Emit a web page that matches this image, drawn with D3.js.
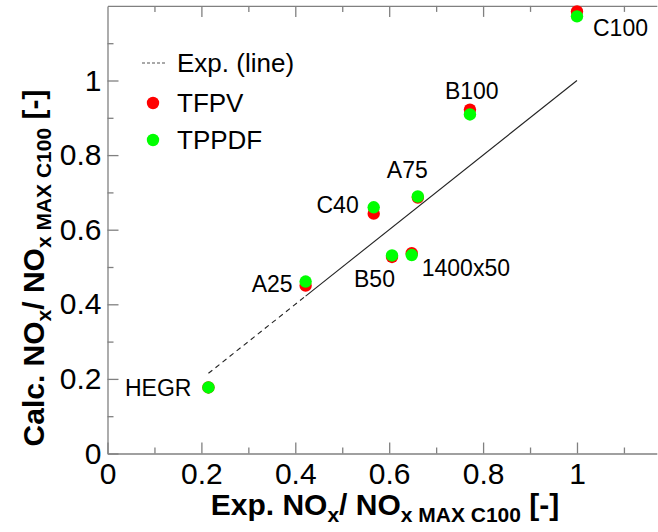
<!DOCTYPE html>
<html>
<head>
  <title></title>
  <style>
    body { margin: 0; background: #fff; }
    svg { display: block; font-family: "Liberation Sans", Arial, sans-serif; }
  </style>
</head>
<body>
  <svg width="658" height="532"></svg>

  <script src="https://d3js.org/d3.v7.min.js"></script>
  <script>

  // cases and normalised NOx values (exp. on x, calc. on y)
  var cases = ["HEGR", "A25", "C40", "A75", "B50", "1400x50", "B100", "C100"];
  var expNox = [0.215, 0.422, 0.567, 0.661, 0.606, 0.648, 0.772, 1.0];
  var tfpv = [0.177, 0.450, 0.643, 0.686, 0.527, 0.537, 0.922, 1.185];
  var tppdf = [0.177, 0.461, 0.660, 0.689, 0.531, 0.532, 0.909, 1.172];

  // experimental line y = x, dashed for the first piece
  var expLineDashed = [0.215, 0.422];
  var expLineSolid = [0.422, 1.0];

  var xTicks = [0, 0.2, 0.4, 0.6, 0.8, 1];
  var yTicks = [0, 0.2, 0.4, 0.6, 0.8, 1];
  var minorTicks = [0.1, 0.3, 0.5, 0.7, 0.9, 1.1];

  // label offsets from the point, in px (dx, dy to baseline, anchor)
  var labelPos = {
    "HEGR":    [-17, 9, "end"],
    "A25":     [-13, 10, "end"],
    "C40":     [-15, 6, "end"],
    "A75":     [-31, -19, "start"],
    "B50":     [-38, 32, "start"],
    "1400x50": [10, 21, "start"],
    "B100":    [-25, -15, "start"],
    "C100":    [16, 20, "start"]
  };

  var svg = d3.select("svg");

  var x = d3.scaleLinear().domain([0, 1.17]).range([107.5, 656.8]);
  var y = d3.scaleLinear().domain([0, 1.2]).range([453.5, 5.9]);

  var axisColor = "#808080";

  function styleAxis(g) {
    g.selectAll(".domain").attr("stroke", axisColor).attr("stroke-width", 1.3);
    g.selectAll(".tick line").attr("stroke", axisColor).attr("stroke-width", 1.3);
    g.selectAll(".tick text").attr("fill", "#000").style("font-size", "30px")
      .style("font-family", "'Liberation Sans', Arial, sans-serif");
  }

  // bottom axis
  svg.append("g")
      .attr("transform", "translate(0," + y(0) + ")")
      .call(d3.axisBottom(x).tickValues(minorTicks).tickSize(-6).tickSizeOuter(0).tickFormat(""))
      .call(styleAxis);
  svg.append("g")
      .attr("transform", "translate(0," + y(0) + ")")
      .call(d3.axisBottom(x).tickValues(xTicks).tickSize(-11).tickSizeOuter(0).tickPadding(9).tickFormat(d3.format("~g")))
      .call(styleAxis)
      .call(function(g) { g.select(".domain").remove(); });

  // top axis (no labels)
  svg.append("g")
      .attr("transform", "translate(0," + y(1.2) + ")")
      .call(d3.axisTop(x).tickValues(minorTicks).tickSize(-6).tickSizeOuter(0).tickFormat(""))
      .call(styleAxis);
  svg.append("g")
      .attr("transform", "translate(0," + y(1.2) + ")")
      .call(d3.axisTop(x).tickValues(xTicks.slice(1)).tickSize(-11).tickSizeOuter(0).tickFormat(""))
      .call(styleAxis)
      .call(function(g) { g.select(".domain").remove(); });

  // left axis
  svg.append("g")
      .attr("transform", "translate(" + x(0) + ",0)")
      .call(d3.axisLeft(y).tickValues(minorTicks).tickSize(-6).tickSizeOuter(0).tickFormat(""))
      .call(styleAxis);
  svg.append("g")
      .attr("transform", "translate(" + x(0) + ",0)")
      .call(d3.axisLeft(y).tickValues(yTicks).tickSize(-11).tickSizeOuter(0).tickPadding(6).tickFormat(d3.format("~g")))
      .call(styleAxis)
      .call(function(g) { g.select(".domain").remove(); });

  // experimental line
  var line = d3.line().x(function(d) { return x(d); }).y(function(d) { return y(d); });
  svg.append("path").datum(expLineDashed)
      .attr("d", line).attr("fill", "none").attr("stroke", "#222")
      .attr("stroke-width", 1.1).attr("stroke-dasharray", "5,4");
  svg.append("path").datum(expLineSolid)
      .attr("d", line).attr("fill", "none").attr("stroke", "#222")
      .attr("stroke-width", 1.1);

  // points
  svg.append("g").selectAll("circle")
      .data(cases)
    .enter().append("circle")
      .attr("cx", function(d, i) { return x(expNox[i]); })
      .attr("cy", function(d, i) { return y(tfpv[i]); })
      .attr("r", 6.2)
      .attr("fill", "#ff0000");
  svg.append("g").selectAll("circle")
      .data(cases)
    .enter().append("circle")
      .attr("cx", function(d, i) { return x(expNox[i]); })
      .attr("cy", function(d, i) { return y(tppdf[i]); })
      .attr("r", 6.2)
      .attr("fill", "#00ff00");

  // case labels
  svg.append("g").selectAll("text")
      .data(cases)
    .enter().append("text")
      .attr("x", function(d, i) { return x(expNox[i]) + labelPos[d][0]; })
      .attr("y", function(d, i) { return y(tppdf[i]) + labelPos[d][1]; })
      .attr("text-anchor", function(d) { return labelPos[d][2]; })
      .style("font-size", "23px")
      .text(function(d) { return d; });

  // legend
  var legend = svg.append("g").style("font-size", "26px");
  legend.append("line")
      .attr("x1", 142).attr("x2", 165).attr("y1", 63).attr("y2", 63)
      .attr("stroke", "#555").attr("stroke-width", 1.1).attr("stroke-dasharray", "3,2");
  legend.append("text").attr("x", 177).attr("y", 72).text("Exp. (line)");
  legend.append("circle").attr("cx", 153).attr("cy", 103).attr("r", 6.2).attr("fill", "#ff0000");
  legend.append("text").attr("x", 177).attr("y", 112).text("TFPV");
  legend.append("circle").attr("cx", 153).attr("cy", 140).attr("r", 6.2).attr("fill", "#00ff00");
  legend.append("text").attr("x", 177).attr("y", 149).text("TPPDF");

  // axis titles with subscripts
  function title(t, prefix) {
    t.style("font-weight", "bold").style("font-size", "30px");
    t.append("tspan").text(prefix + " NO");
    t.append("tspan").attr("dy", 7).style("font-size", "21px").text("x");
    t.append("tspan").attr("dy", -7).text("/ NO");
    t.append("tspan").attr("dy", 7).style("font-size", "21px").text("x MAX C100");
    t.append("tspan").attr("dy", -7).text(" [-]");
  }

  svg.append("text")
      .attr("x", 385).attr("y", 515)
      .attr("text-anchor", "middle")
      .call(title, "Exp.");

  svg.append("text")
      .attr("transform", "translate(44,268) rotate(-90)")
      .attr("text-anchor", "middle")
      .call(title, "Calc.");

  </script>
</body>
</html>
